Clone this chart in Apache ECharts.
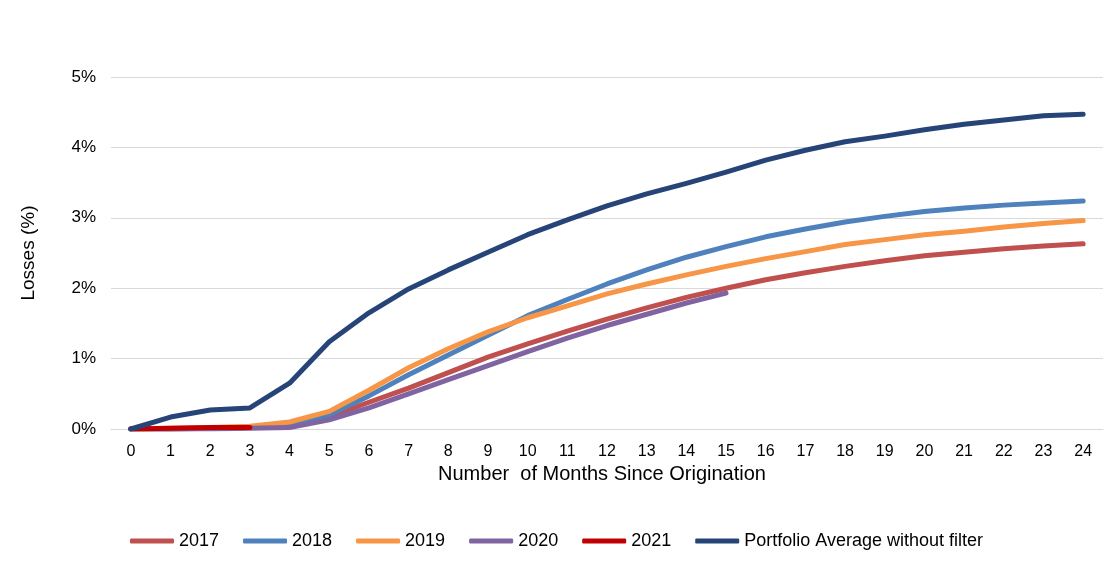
<!DOCTYPE html>
<html>
<head>
<meta charset="utf-8">
<script src="https://cdn.jsdelivr.net/npm/echarts@6/dist/echarts.min.js"></script>
<style>html,body{margin:0;padding:0;background:#fff}#c{width:1116px;height:569px}</style>
</head>
<body>
<div id="c"></div>
<script>
const months = ['0','1','2','3','4','5','6','7','8','9','10','11','12','13','14','15','16','17','18','19','20','21','22','23','24'];
const yTicks = [0, 1, 2, 3, 4, 5];
const v2017 = [0, 0, 0.01, 0.02, 0.05, 0.17, 0.38, 0.58, 0.8, 1.02, 1.21, 1.39, 1.56, 1.72, 1.87, 2.0, 2.12, 2.22, 2.31, 2.39, 2.46, 2.51, 2.56, 2.6, 2.63];
const v2018 = [0, 0, 0.01, 0.02, 0.03, 0.2, 0.47, 0.77, 1.05, 1.33, 1.61, 1.84, 2.06, 2.26, 2.44, 2.59, 2.73, 2.84, 2.94, 3.02, 3.09, 3.14, 3.18, 3.21, 3.24];
const v2019 = [0, 0.01, 0.02, 0.04, 0.1, 0.25, 0.55, 0.87, 1.14, 1.38, 1.58, 1.75, 1.92, 2.06, 2.19, 2.31, 2.42, 2.52, 2.62, 2.69, 2.76, 2.81, 2.87, 2.92, 2.96];
const v2020 = [0, 0, 0, 0.01, 0.02, 0.13, 0.3, 0.5, 0.7, 0.9, 1.1, 1.29, 1.47, 1.63, 1.79, 1.93];
const v2021 = [0, 0.01, 0.02, 0.02];
const vPortfolio = [0, 0.17, 0.27, 0.3, 0.65, 1.24, 1.65, 1.99, 2.26, 2.51, 2.76, 2.97, 3.17, 3.34, 3.49, 3.65, 3.82, 3.96, 4.08, 4.16, 4.25, 4.33, 4.39, 4.45, 4.47];

const names = ['2017', '2018', '2019', '2020', '2021', 'Portfolio Average without filter'];
const colors = ['#C0504D', '#4F81BD', '#F79646', '#8064A2', '#C00000', '#264478'];
const datas = [v2017, v2018, v2019, v2020, v2021, vPortfolio];

const font = 'Arial, "Liberation Sans", sans-serif';
const chart = echarts.init(document.getElementById('c'), null, {renderer: 'canvas'});
chart.setOption({
  animation: false,
  backgroundColor: '#fff',
  color: colors,
  grid: {left: 111, right: 13, top: 77, bottom: 140, containLabel: false},
  legend: {
    left: 125, top: 527,
    icon: 'roundRect', itemWidth: 44, itemHeight: 5, itemGap: 24,
    textStyle: {fontFamily: font, fontSize: 18, color: '#000'},
    data: names
  },
  xAxis: {
    type: 'category', data: months, boundaryGap: true,
    name: 'Number  of Months Since Origination', nameLocation: 'middle', nameGap: 32,
    nameTextStyle: {fontFamily: font, fontSize: 20, color: '#000', padding: [0, 10, 0, 0]},
    axisLine: {show: true, lineStyle: {color: '#D9D9D9', width: 1}},
    axisTick: {show: false},
    axisLabel: {fontFamily: font, fontSize: 16, color: '#000', margin: 15, interval: 0}
  },
  yAxis: {
    type: 'value', min: 0, max: 5, interval: 1,
    name: 'Losses (%)', nameLocation: 'middle', nameGap: 73, nameRotate: 90,
    nameTextStyle: {fontFamily: font, fontSize: 19, color: '#000'},
    axisLine: {show: false}, axisTick: {show: false},
    splitLine: {lineStyle: {color: '#D9D9D9', width: 1}},
    axisLabel: {fontFamily: font, fontSize: 17, color: '#000', margin: 15,
      formatter: v => yTicks.includes(v) ? v + '%' : ''}
  },
  series: datas.map((d, i) => ({
    name: names[i], type: 'line', data: d, symbol: 'none', smooth: false,
    lineStyle: {width: 5, color: colors[i], cap: 'round', join: 'round'},
    itemStyle: {color: colors[i]}
  }))
});
</script>
</body>
</html>
